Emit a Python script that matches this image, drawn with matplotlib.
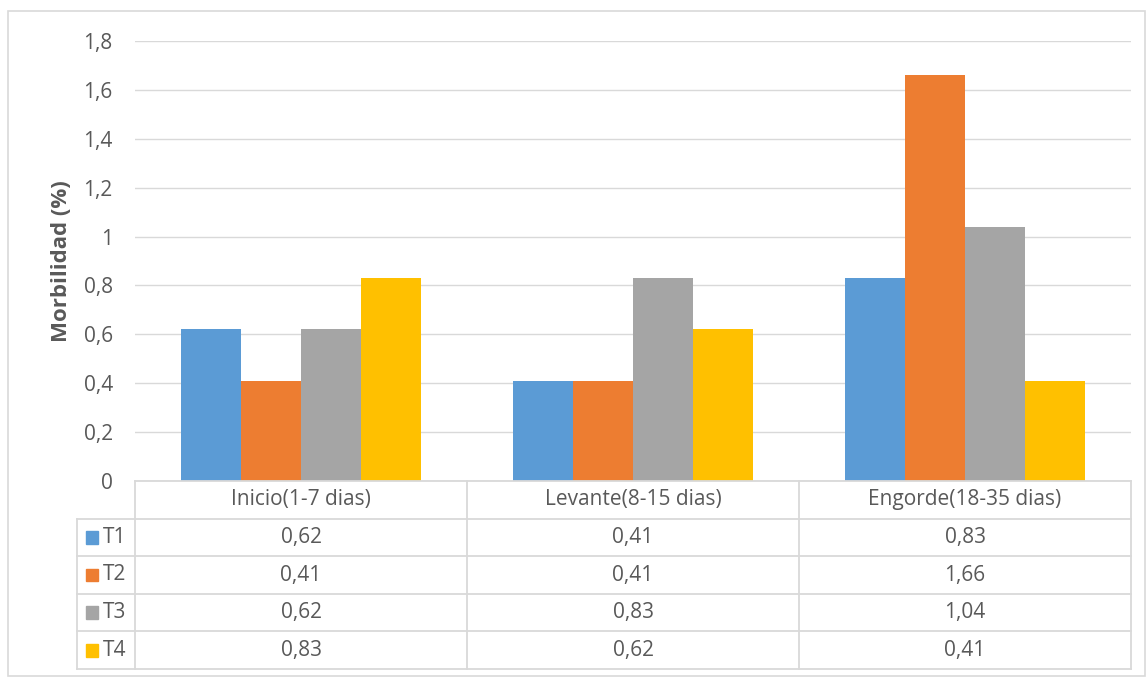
import numpy as np
import matplotlib.pyplot as plt
from matplotlib.ticker import FuncFormatter
from matplotlib.patches import Rectangle

categories = ["Inicio(1-7 dias)", "Levante(8-15 dias)", "Engorde(18-35 dias)"]
series = ["T1", "T2", "T3", "T4"]
t1 = [0.62, 0.41, 0.83]
t2 = [0.41, 0.41, 1.66]
t3 = [0.62, 0.83, 1.04]
t4 = [0.83, 0.62, 0.41]
colors = ["#5b9bd5", "#ed7d31", "#a5a5a5", "#ffc000"]

plt.rcParams['font.family'] = ['Open Sans', 'DejaVu Sans']
text_color = "#595959"
grid_color = "#d9d9d9"
fs = 15

W, H = 1146, 677
fig = plt.figure(figsize=(W / 100, H / 100), dpi=100)


def fx(px):
    return px / W


def fy(py):
    return 1 - py / H


# chart border
fig.patches.append(Rectangle((fx(8), fy(676)), fx(1137), fy(11) - fy(676),
                             transform=fig.transFigure, fill=False,
                             edgecolor=grid_color, lw=1.2))

ax = fig.add_axes([fx(135), fy(481), fx(1131) - fx(135), fy(41) - fy(481)])
values = [t1, t2, t3, t4]
x = np.arange(len(categories)) + 0.5
bw = 0.181
for i, (vals, c) in enumerate(zip(values, colors)):
    ax.bar(x + (i - 1.5) * bw, vals, width=bw, color=c, zorder=3)

ax.set_xlim(0, 3)
ax.set_ylim(0, 1.8)
ax.set_yticks(np.arange(0, 1.81, 0.2))
ax.yaxis.set_major_formatter(FuncFormatter(lambda v, p: f"{v:g}".replace(".", ",")))
ax.tick_params(axis='y', length=0, pad=16, labelsize=fs, labelcolor=text_color)
ax.set_xticks([])
ax.grid(axis='y', color=grid_color, lw=1, zorder=0)
for s in ax.spines.values():
    s.set_visible(False)
ax.set_ylabel("Morbilidad (%)", fontsize=16, fontweight='bold',
              color=text_color, labelpad=8)

# data table under the bars
tab = fig.add_axes([fx(77), fy(669), fx(1131) - fx(77), fy(481) - fy(669)])
left = -58 / 332
tab.set_xlim(left, 3)
tab.set_ylim(5, 0)
tab.axis('off')
lc = dict(color=grid_color, lw=1.3, clip_on=False)
tab.plot([0, 3], [0, 0], **lc)
for r in range(1, 6):
    tab.plot([left, 3], [r, r], **lc)
for c in range(4):
    tab.plot([c, c], [0, 5], **lc)
tab.plot([left, left], [1, 5], **lc)

for j, cat in enumerate(categories):
    tab.text(j + 0.5, 0.5, cat, ha='center', va='center', fontsize=fs, color=text_color)
for i, (name, vals, c) in enumerate(zip(series, values, colors)):
    r = i + 1.5
    tab.add_patch(Rectangle((left + 0.026, r - 0.17), 0.037, 0.34, color=c,
                            transform=tab.transData, clip_on=False))
    tab.text(left + 0.078, r, name, ha='left', va='center', fontsize=fs, color=text_color)
    for j, v in enumerate(vals):
        tab.text(j + 0.5, r, f"{v:.2f}".replace(".", ","), ha='center', va='center',
                 fontsize=fs, color=text_color)

fig.savefig("out.png", dpi=100)
